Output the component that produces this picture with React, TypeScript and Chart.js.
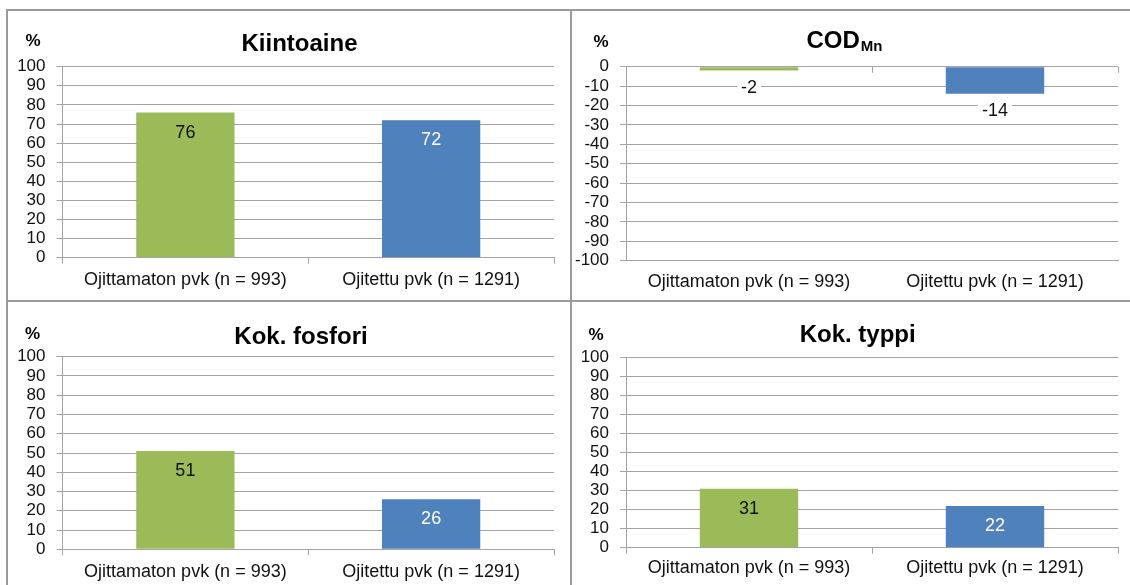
import React, { useEffect, useRef } from "react";
import { Chart, registerables } from "chart.js";

Chart.register(...registerables);

// ---- data ----
const categories = ["Ojittamaton pvk (n = 993)", "Ojitettu pvk (n = 1291)"];
const kiintoaine = [76, 72];
const codMn = [-2, -14];
const kokFosfori = [51, 26];
const kokTyppi = [31, 22];
const positiveRange = [0, 100];
const negativeRange = [-100, 0];
const tickStep = 10;
const barColors = ["#9BBB59", "#4F81BD"];
const insideLabelColors = ["#111111", "#FFFFFF"];

const FONT = '"Liberation Sans", Arial, Helvetica, sans-serif';
const GRID = "#a3a3a3";
const BORDER = "#9a9a9a";

type Panel = {
  id: string;
  title: string;
  sub?: string;
  values: number[];
  range: number[];
  canvas: { left: number; top: number; width: number; height: number };
  yWidth: number;
  padTop: number;
  padRight: number;
  xHeight: number;
  xPad: number;
  ticksTop: boolean;
  titleX: number;
  titleY: number;
  pctX: number;
  pctY: number;
};

const panels: Panel[] = [
  {
    id: "tl", title: "Kiintoaine", values: kiintoaine, range: positiveRange,
    canvas: { left: 8, top: 11, width: 562, height: 289 },
    yWidth: 54.5, padTop: 55.7, padRight: 16, xHeight: 42.3, xPad: 5.5, ticksTop: false,
    titleX: 299.5, titleY: 42, pctX: 33, pctY: 40,
  },
  {
    id: "tr", title: "COD", sub: "Mn", values: codMn, range: negativeRange,
    canvas: { left: 572, top: 11, width: 558, height: 289 },
    yWidth: 54, padTop: 55.7, padRight: 12, xHeight: 39.3, xPad: 10.2, ticksTop: true,
    titleX: 844.5, titleY: 39.3, pctX: 601, pctY: 40.5,
  },
  {
    id: "bl", title: "Kok. fosfori", values: kokFosfori, range: positiveRange,
    canvas: { left: 8, top: 302, width: 562, height: 283 },
    yWidth: 54.5, padTop: 54.7, padRight: 16, xHeight: 35.7, xPad: 5.6, ticksTop: false,
    titleX: 301, titleY: 335, pctX: 32.5, pctY: 332.7,
  },
  {
    id: "br", title: "Kok. typpi", values: kokTyppi, range: positiveRange,
    canvas: { left: 572, top: 302, width: 558, height: 283 },
    yWidth: 54, padTop: 55.7, padRight: 12, xHeight: 37.3, xPad: 3.8, ticksTop: false,
    titleX: 857.7, titleY: 333.3, pctX: 596, pctY: 334.3,
  },
];

function PanelChart({ p }: { p: Panel }) {
  const ref = useRef<HTMLCanvasElement>(null);
  useEffect(() => {
    const canvas = ref.current;
    if (!canvas) return;
    const ox = p.canvas.left;
    const oy = p.canvas.top;

    const overlay = {
      id: "overlay_" + p.id,
      afterDatasetsDraw(chart: any) {
        const ctx = chart.ctx as CanvasRenderingContext2D;
        const meta = chart.getDatasetMeta(0);
        const data = chart.data.datasets[0].data as number[];
        ctx.save();
        ctx.font = `18px ${FONT}`;
        ctx.textAlign = "center";
        ctx.textBaseline = "middle";
        meta.data.forEach((el: any, i: number) => {
          const v = data[i];
          const txt = String(v);
          if (v >= 0) {
            ctx.fillStyle = insideLabelColors[i];
            ctx.fillText(txt, el.x, el.y + 20);
          } else {
            const w = ctx.measureText(txt).width;
            const y = el.y + 17.5;
            ctx.fillStyle = "#ffffff";
            ctx.fillRect(el.x - w / 2 - 4, y - 10, w + 8, 20);
            ctx.fillStyle = "#111111";
            ctx.fillText(txt, el.x, y);
          }
        });
        ctx.restore();
      },
      afterDraw(chart: any) {
        const ctx = chart.ctx as CanvasRenderingContext2D;
        ctx.save();
        ctx.fillStyle = "#000000";
        ctx.textBaseline = "alphabetic";
        // percent sign
        ctx.font = `bold 17px ${FONT}`;
        ctx.textAlign = "center";
        ctx.fillText("%", p.pctX - ox, p.pctY - oy + 6);
        // title
        const base = p.titleY - oy + 8.6;
        ctx.font = `bold 24px ${FONT}`;
        if (!p.sub) {
          ctx.textAlign = "center";
          ctx.fillText(p.title, p.titleX - ox, base);
        } else {
          const w1 = ctx.measureText(p.title).width;
          ctx.font = `bold 15px ${FONT}`;
          const w2 = ctx.measureText(p.sub).width;
          const start = p.titleX - ox - (w1 + w2 + 1) / 2;
          ctx.textAlign = "left";
          ctx.font = `bold 24px ${FONT}`;
          ctx.fillText(p.title, start, base);
          ctx.font = `bold 15px ${FONT}`;
          ctx.fillText(p.sub, start + w1 + 1, base + 3);
        }
        ctx.restore();
      },
    };

    const scales: any = {
      x: {
        type: "category",
        position: "bottom",
        offset: true,
        grid: {
          display: true,
          offset: true,
          drawOnChartArea: false,
          drawTicks: !p.ticksTop,
          tickLength: 6,
          color: GRID,
          lineWidth: 1,
        },
        border: { display: true, color: GRID, width: 1 },
        ticks: {
          color: "#111111",
          font: { family: FONT, size: 18 },
          padding: p.xPad,
          maxRotation: 0,
          autoSkip: false,
        },
        afterFit: (s: any) => {
          s.height = p.xHeight;
        },
      },
      y: {
        type: "linear",
        position: "left",
        min: p.range[0],
        max: p.range[1],
        ticks: {
          stepSize: tickStep,
          autoSkip: false,
          color: "#111111",
          font: { family: FONT, size: 17 },
          padding: 11,
        },
        grid: { color: GRID, lineWidth: 1, tickLength: 6, drawTicks: true },
        border: { display: true, color: GRID, width: 1 },
        afterFit: (s: any) => {
          s.width = p.yWidth;
        },
      },
    };
    if (p.ticksTop) {
      scales.xTop = {
        type: "category",
        position: "top",
        offset: true,
        grid: {
          display: true,
          offset: true,
          drawOnChartArea: false,
          drawTicks: true,
          tickLength: -6,
          color: GRID,
          lineWidth: 1,
        },
        border: { display: false },
        ticks: { display: false },
        afterFit: (s: any) => {
          s.height = 0;
        },
      };
    }

    const chart = new Chart(canvas, {
      type: "bar",
      data: {
        labels: categories,
        datasets: [
          {
            data: p.values,
            backgroundColor: barColors,
            borderWidth: 0,
            barPercentage: 0.4,
            categoryPercentage: 1,
          },
        ],
      },
      options: {
        animation: false,
        responsive: false,
        maintainAspectRatio: false,
        devicePixelRatio: 1,
        layout: { padding: { left: 0, top: p.padTop, right: p.padRight, bottom: 0 } },
        plugins: {
          legend: { display: false },
          title: { display: false },
          tooltip: { enabled: false },
        },
        scales,
      },
      plugins: [overlay],
    });
    return () => chart.destroy();
  }, [p]);

  return (
    <canvas
      ref={ref}
      width={p.canvas.width}
      height={p.canvas.height}
      style={{
        position: "absolute",
        left: p.canvas.left,
        top: p.canvas.top,
        width: p.canvas.width,
        height: p.canvas.height,
      }}
    />
  );
}

export default function App() {
  const line = (left: number, top: number, width: number, height: number) => (
    <div
      style={{ position: "absolute", left, top, width, height, background: BORDER, zIndex: 2 }}
    />
  );
  return (
    <div
      style={{
        position: "fixed",
        left: 0,
        top: 0,
        width: 1130,
        height: 585,
        background: "#ffffff",
        overflow: "hidden",
      }}
    >
      {panels.map((p) => (
        <PanelChart key={p.id} p={p} />
      ))}
      {line(6, 9, 1130, 2)}
      {line(6, 9, 2, 600)}
      {line(570, 9, 2, 600)}
      {line(6, 300, 1130, 2)}
    </div>
  );
}
